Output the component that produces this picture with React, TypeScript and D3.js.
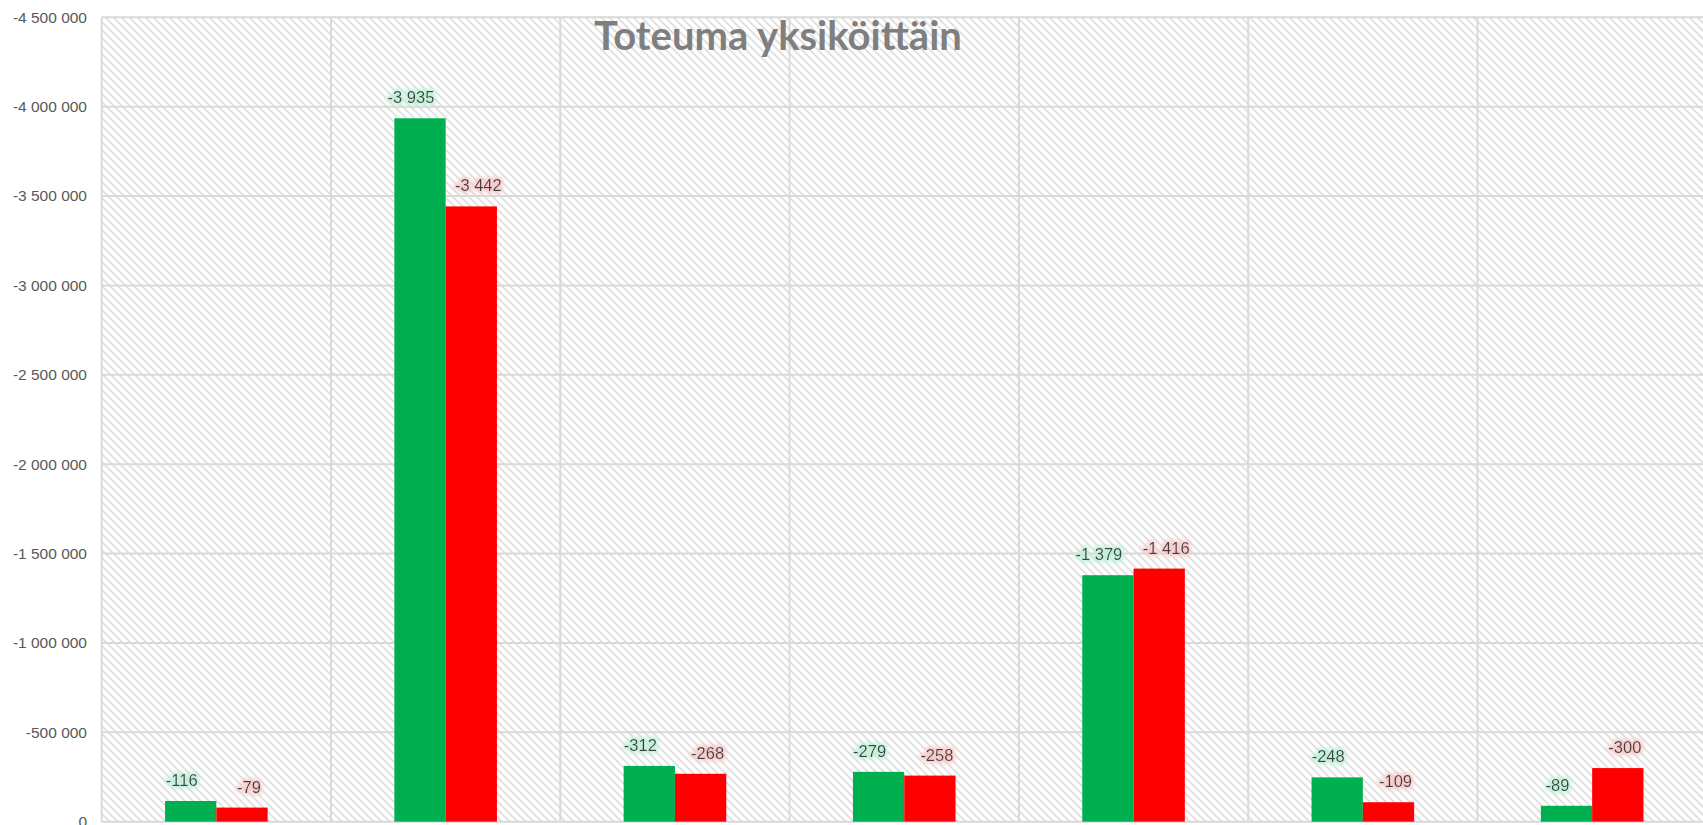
import * as d3 from 'd3';
import { useMemo } from 'react';

// values in thousands, as printed on the data labels
const categories = ['Yksikkö 1', 'Yksikkö 2', 'Yksikkö 3', 'Yksikkö 4', 'Yksikkö 5', 'Yksikkö 6', 'Yksikkö 7'];
const seriesNames = ['Budjetti', 'Toteuma'];
const budjetti = [-116, -3935, -312, -279, -1379, -248, -89];
const toteuma = [-79, -3442, -268, -258, -1416, -109, -300];
const yTicks = [0, -500000, -1000000, -1500000, -2000000, -2500000, -3000000, -3500000, -4000000, -4500000];

const W = 1703;
const H = 825;
const margin = { top: 17.3, left: 101.7, bottom: 3.3 };
const plotRight = 1706.8;

const colors = ['#00b050', '#ff0000'];
const glowColors = ['#bff0d8', '#f8caca'];
const labelDx = [-9, 7];

const locale = d3.formatLocale({ decimal: ',', thousands: '\u00a0', grouping: [3], currency: ['', '€'], minus: '-' });
const fmt = locale.format(',d');

export default function App() {
  const x0 = useMemo(() => d3.scaleBand<string>().domain(categories).range([margin.left, plotRight]).padding(0), []);
  const x1 = useMemo(
    () => d3.scaleBand<string>().domain(seriesNames).range([0, x0.bandwidth()]).paddingInner(0).paddingOuter(1.235),
    [x0]
  );
  const y = useMemo(() => d3.scaleLinear().domain([0, -4500000]).range([H - margin.bottom, margin.top]), []);

  const series = [budjetti, toteuma];
  const bottom = y(0);

  return (
    <svg width={W} height={H} style={{ position: 'fixed', left: 0, top: 0, background: '#fff' }}>
      <defs>
        <pattern id="hatch" width="8" height="8" patternUnits="userSpaceOnUse">
          <rect width="8" height="8" fill="#fff" />
          <path d="M-2,-2 L10,10 M-2,6 L2,10 M6,-2 L10,2" stroke="#dedede" strokeWidth="1.7" />
        </pattern>
        {glowColors.map((c, i) => (
          <filter key={i} id={`glow${i}`} x="-20%" y="-50%" width="140%" height="200%">
            <feMorphology in="SourceAlpha" operator="dilate" radius="2" result="d" />
            <feGaussianBlur in="d" stdDeviation="2" result="b" />
            <feFlood floodColor={c} />
            <feComposite in2="b" operator="in" result="glow" />
            <feMerge>
              <feMergeNode in="glow" />
              <feMergeNode in="SourceGraphic" />
            </feMerge>
          </filter>
        ))}
      </defs>

      {/* plot background */}
      <rect x={margin.left} y={margin.top} width={plotRight - margin.left} height={bottom - margin.top} fill="url(#hatch)" />

      {/* gridlines */}
      {yTicks.map(t => (
        <line key={t} x1={margin.left} x2={plotRight} y1={y(t)} y2={y(t)} stroke="#d9d9d9" strokeWidth={2} />
      ))}
      {categories.map(c => (
        <line key={c} x1={x0(c)!} x2={x0(c)!} y1={margin.top} y2={bottom} stroke="#d9d9d9" strokeWidth={2} />
      ))}

      {/* y tick labels */}
      {yTicks.map(t => (
        <text
          key={t}
          x={87}
          y={y(t)}
          dy="0.35em"
          textAnchor="end"
          fontFamily="'Liberation Sans', Arial, sans-serif"
          fontSize={15.5}
          fill="#595959"
        >
          {fmt(t)}
        </text>
      ))}

      {/* title */}
      <text
        x={778}
        y={49.5}
        textAnchor="middle"
        fontFamily="Lato, 'Open Sans', sans-serif"
        fontWeight="bold"
        fontSize={40}
        fill="#7f7f7f"
      >
        Toteuma yksiköittäin
      </text>

      {/* bars */}
      {series.map((vals, si) =>
        vals.map((v, ci) => {
          const bx = x0(categories[ci])! + x1(seriesNames[si])!;
          const top = y(v * 1000);
          return (
            <rect
              key={`${si}-${ci}`}
              x={bx}
              y={top}
              width={x1.bandwidth()}
              height={bottom - top}
              fill={colors[si]}
            />
          );
        })
      )}

      {/* data labels */}
      {series.map((vals, si) =>
        vals.map((v, ci) => {
          const cx = x0(categories[ci])! + x1(seriesNames[si])! + x1.bandwidth() / 2 + labelDx[si];
          return (
            <text
              key={`l${si}-${ci}`}
              x={cx}
              y={y(v * 1000) - 15}
              textAnchor="middle"
              fontFamily="'Liberation Sans', Arial, sans-serif"
              fontSize={16.5}
              fill="#404040"
              filter={`url(#glow${si})`}
            >
              {fmt(v)}
            </text>
          );
        })
      )}
    </svg>
  );
}
